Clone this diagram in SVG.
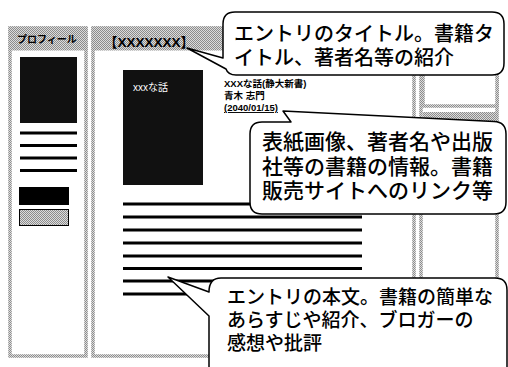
<svg xmlns="http://www.w3.org/2000/svg" width="508" height="367" viewBox="0 0 508 367">
<defs>
<pattern id="dither" width="2" height="2" patternUnits="userSpaceOnUse">
<rect width="2" height="2" fill="#dcdcdc"/>
<rect width="1" height="1" fill="#8c8c8c"/>
<rect x="1" y="1" width="1" height="1" fill="#8c8c8c"/>
</pattern>
<style>
.col{fill:#fff;stroke:url(#dither);stroke-width:3.5}
.band{fill:url(#dither)}
.bar{stroke:#000;stroke-width:3}
.dark{fill:#111}
.callout{fill:#fff;stroke:#000;stroke-width:1.5;stroke-linejoin:round}
.ja{font-family:"Noto Sans CJK JP","Noto Sans",sans-serif;fill:#000;font-weight:500}
.small{font-family:"Liberation Sans","Noto Sans CJK JP",sans-serif;font-weight:bold;fill:#000}
.cover{font-family:"Liberation Sans","Noto Sans CJK JP",sans-serif;fill:#fff}
</style>
</defs>
<rect width="508" height="367" fill="#fff"/>

<g id="profile-column">
<rect class="col" x="10" y="28" width="76" height="328"/>
<rect class="band" x="8.5" y="26.5" width="79" height="24"/>
<text class="small" x="17" y="43" font-size="10">プロフィール</text>
<rect class="dark" x="20" y="57" width="57" height="66"/>
<line class="bar" x1="20" y1="133" x2="77" y2="133"/>
<line class="bar" x1="20" y1="145.5" x2="77" y2="145.5"/>
<line class="bar" x1="20" y1="158" x2="77" y2="158"/>
<line class="bar" x1="20" y1="170.5" x2="77" y2="170.5"/>
<rect x="19" y="187" width="50" height="18" fill="#000"/>
<rect x="19.5" y="209.5" width="49" height="16" fill="url(#dither)" stroke="#000" stroke-width="1"/>
</g>

<g id="main-column">
<rect class="col" x="93" y="28" width="321" height="328"/>
<rect class="band" x="91.5" y="26.5" width="324" height="24"/>
<text class="small" x="104" y="47" font-size="13.5">【XXXXXXX】</text>
<rect class="dark" x="123" y="70" width="80" height="115"/>
<text class="cover" x="133" y="91" font-size="10">xxxな話</text>
<text class="small" font-size="9.5"><tspan x="224" y="87">XXXな話(静大新書)</tspan><tspan x="224" y="99">青木  志門</tspan><tspan x="224" y="111" text-decoration="underline">(2040/01/15)</tspan></text>
<line class="bar" x1="123" y1="204" x2="362" y2="204"/>
<line class="bar" x1="123" y1="217" x2="362" y2="217"/>
<line class="bar" x1="123" y1="230" x2="362" y2="230"/>
<line class="bar" x1="123" y1="243" x2="362" y2="243"/>
<line class="bar" x1="123" y1="256" x2="362" y2="256"/>
<line class="bar" x1="123" y1="268.5" x2="362" y2="268.5"/>
<line class="bar" x1="123" y1="281" x2="362" y2="281"/>
<line class="bar" x1="123" y1="294" x2="362" y2="294"/>
</g>

<g id="side-column">
<rect class="col" x="421" y="28" width="76" height="328"/>
<rect class="col" x="423" y="50" width="74" height="56" stroke-width="2.5"/>
<rect class="band" x="423" y="112" width="74" height="9"/>
</g>

<g id="connectors"></g>

<g id="callout-title">
<path class="callout" d="M235,12 H492 Q504,12 504,24 V63 Q504,75 492,75 H236 Q228,75 226,69 L187,48 L223,58 V24 Q223,12 235,12 Z"/>
<text class="ja" font-size="20"><tspan x="234" y="41">エントリのタイトル。書籍タ</tspan><tspan x="234" y="65">イトル、著者名等の紹介</tspan></text>
</g>

<g id="callout-info">
<path class="callout" d="M250,134 Q250,122 262,122 H291 L283,111 L494,121.5 Q506,122 506,134 V202 Q506,214 494,214 H262 Q250,214 250,202 Z"/>
<text class="ja" font-size="21"><tspan x="262" y="149">表紙画像、著者名や出版</tspan><tspan x="262" y="173.5">社等の書籍の情報。書籍</tspan><tspan x="262" y="198">販売サイトへのリンク等</tspan></text>
</g>

<g id="callout-body">
<path class="callout" d="M221,278 H495 Q507,278 507,290 V380 H209 V316 L168,277 L209,292 Q209,278 221,278 Z"/>
<text class="ja" font-size="19"><tspan x="227" y="304">エントリの本文。書籍の簡単な</tspan><tspan x="227" y="327">あらすじや紹介、ブロガーの</tspan><tspan x="227" y="350">感想や批評</tspan></text>
</g>
</svg>
